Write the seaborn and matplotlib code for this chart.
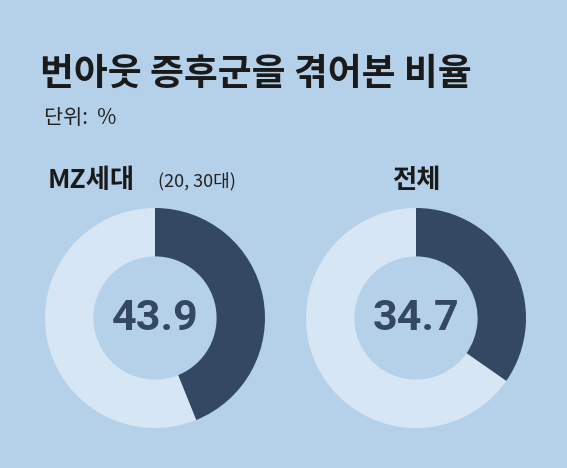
import matplotlib
matplotlib.use("Agg")
import matplotlib.pyplot as plt
import seaborn as sns

groups = ["MZ세대", "전체"]
values = [43.9, 34.7]
centers_x = [155, 416]

sns.set_theme(style="white")
plt.rcParams['font.family'] = ['Noto Sans CJK KR', 'DejaVu Sans']

BG = "#b5d1ea"
DARK = "#344863"
LIGHT = "#d6e6f5"
W, H = 567, 468
fig = plt.figure(figsize=(W/100, H/100), dpi=100, facecolor=BG)

fig.text(40/W, 1-74/H, "번아웃 증후군을 겪어본 비율", fontsize=26.5, fontweight="bold",
         color="#1a1a1a", va="center", ha="left")
fig.text(44/W, 1-118/H, "단위:  %", fontsize=15, color="#222222", va="center", ha="left")
fig.text(48/W, 1-181/H, "MZ세대", fontsize=19, fontweight="bold", color="#1a1a1a", va="center")
fig.text(158/W, 1-181/H, "(20, 30대)", fontsize=13, color="#222222", va="center")
fig.text(416/W, 1-181/H, "전체", fontsize=19, fontweight="bold", color="#1a1a1a", va="center", ha="center")

R = 110
for cx, v in zip(centers_x, values):
    ax = fig.add_axes([(cx-R)/W, (H-318-R)/H, 2*R/W, 2*R/H])
    ax.pie([v, 100-v], colors=[DARK, LIGHT], startangle=90, counterclock=False,
           radius=1, wedgeprops=dict(width=0.44, edgecolor="none"))
    ax.set_xlim(-1, 1); ax.set_ylim(-1, 1)
    ax.set_aspect("equal")
    ax.axis("off")
    ax.text(0, 0, f"{v}", ha="center", va="center", fontsize=31, fontweight="bold", color=DARK,
            family=["Roboto", "DejaVu Sans"])

fig.savefig("out.png", dpi=100, facecolor=BG)
